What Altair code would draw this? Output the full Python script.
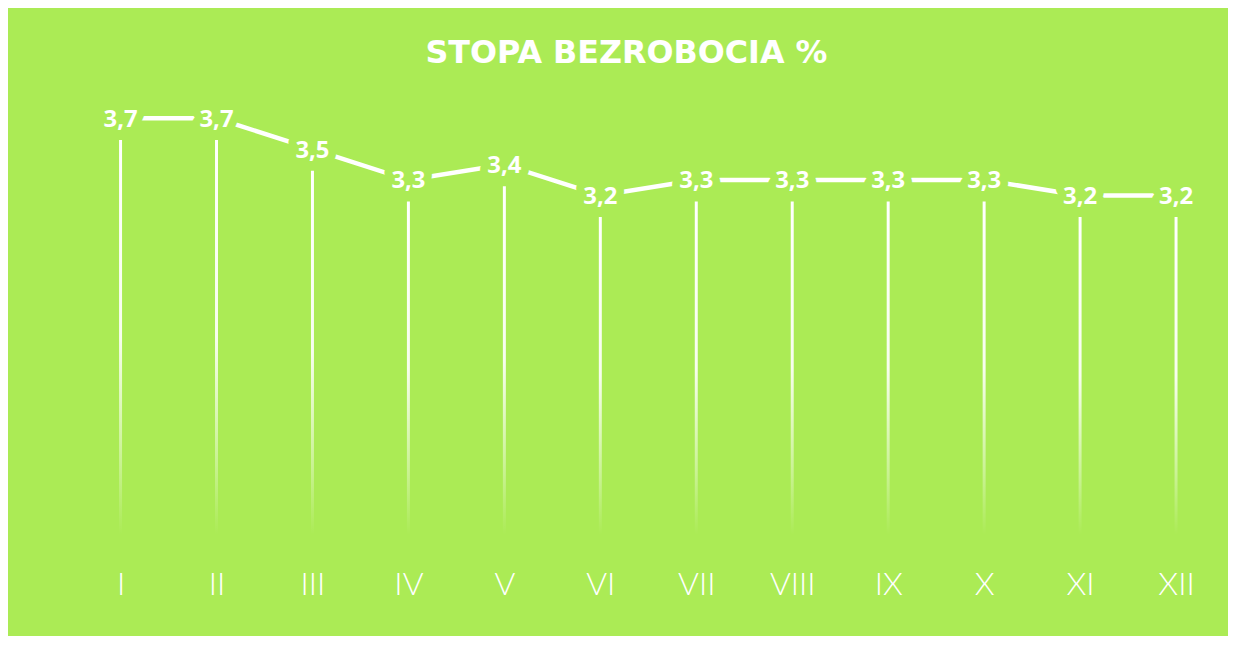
import altair as alt
import pandas as pd

months = ["I", "II", "III", "IV", "V", "VI", "VII", "VIII", "IX", "X", "XI", "XII"]
values = [3.7, 3.7, 3.5, 3.3, 3.4, 3.2, 3.3, 3.3, 3.3, 3.3, 3.2, 3.2]
labels = [f"{v:.1f}".replace(".", ",") for v in values]

BG = "#abeb55"

df = pd.DataFrame({"month": months, "value": values, "label": labels})

x_enc = alt.X(
    "month:N",
    sort=months,
    scale=alt.Scale(type="point", padding=0.5),
    axis=alt.Axis(
        title=None, labelAngle=0, domain=False, ticks=False, grid=False,
        labelColor="white", labelFont="Lato", labelFontSize=32, labelFontWeight=300,
        labelPadding=60, labelBaseline="alphabetic",
    ),
)
y_scale = alt.Scale(domain=[1.0, 3.7], nice=False, zero=False)

base = alt.Chart(df)

drops = base.transform_calculate(top="datum.value - 0.14", bottom="1.0").mark_bar(
    size=3,
    fill=alt.LinearGradient(
        gradient="linear",
        x1=0, x2=0, y1=0, y2=1,
        stops=[
            alt.GradientStop(color="rgba(255,255,255,1)", offset=0),
            alt.GradientStop(color="rgba(255,255,255,0.9)", offset=0.5),
            alt.GradientStop(color="rgba(255,255,255,0.35)", offset=0.82),
            alt.GradientStop(color="rgba(255,255,255,0)", offset=1),
        ],
    ),
).encode(
    x=x_enc,
    y=alt.Y("top:Q", scale=y_scale, axis=None),
    y2="bottom:Q",
)

line = base.mark_line(color="white", strokeWidth=4.5, strokeCap="butt").encode(
    x=x_enc,
    y=alt.Y("value:Q", scale=y_scale, axis=None),
)

halo = base.mark_text(
    font="Open Sans", fontSize=24, fontWeight="bold", baseline="middle", dy=1.5,
    color=BG, stroke=BG, strokeWidth=16, strokeJoin="round",
).encode(
    x=x_enc,
    y=alt.Y("value:Q", scale=y_scale, axis=None),
    text="label:N",
)

text = base.mark_text(
    font="Open Sans", fontSize=24, fontWeight="bold", baseline="middle", dy=1.5,
    color="white",
).encode(
    x=x_enc,
    y=alt.Y("value:Q", scale=y_scale, axis=None),
    text="label:N",
)

chart = alt.layer(drops, line, halo, text).properties(
    width=1159,
    height=419,
    padding={"left": 65, "right": 4, "top": 109, "bottom": 100},
    autosize=alt.AutoSizeParams(type="none"),
    background=BG,
    title=alt.TitleParams(
        "STOPA BEZROBOCIA %",
        font="DejaVu Sans", fontSize=32, fontWeight="bold", color="white",
        anchor="middle", baseline="alphabetic", offset=13, dx=-22,
        limit=0,
    ),
).configure_view(stroke=None)

chart.save("out.html", embed_options={"renderer": "svg", "actions": False})
